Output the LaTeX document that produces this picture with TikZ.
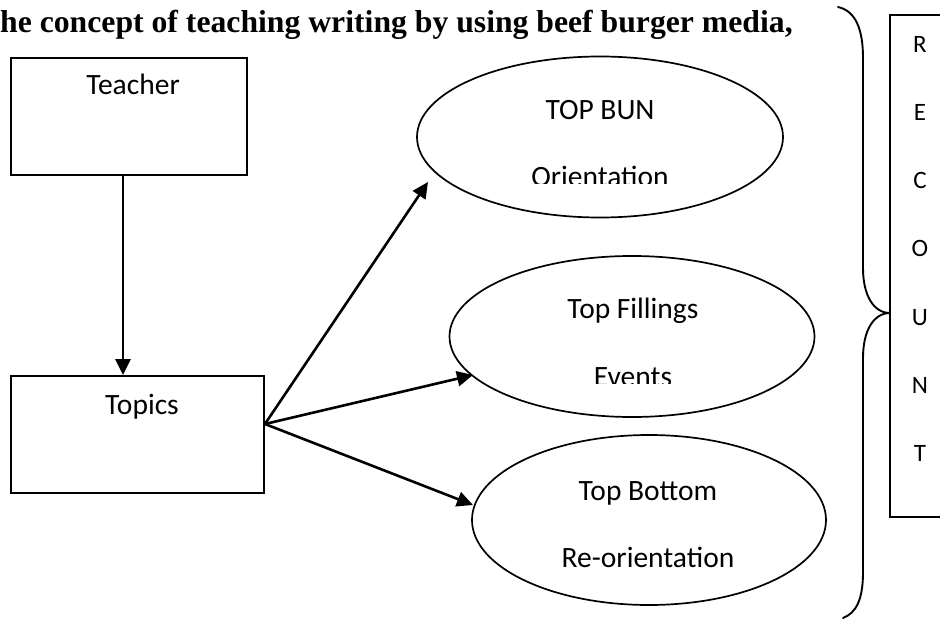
\documentclass[tikz,border=0pt]{standalone}
\usepackage{fontspec}
\setmainfont{Carlito}
\newfontfamily\titlefont{Liberation Serif}
\usetikzlibrary{arrows.meta,shapes.geometric,calc}
\tikzset{
  boxshape/.style={draw, line width=1.9bp, rectangle, inner sep=0pt},
  ellshape/.style={draw, line width=1.7bp, ellipse, inner sep=0pt},
  txt/.style={inner sep=0pt, anchor=base, font=\fontsize{29.5bp}{35bp}\selectfont},
  rtxt/.style={inner sep=0pt, anchor=base, font=\fontsize{25bp}{30bp}\selectfont},
  arr/.style={line width=2.6bp, -{Triangle[length=16bp,width=15bp]}},
  brace/.style={line width=1.9bp, line cap=round},
}
\begin{document}
\begin{tikzpicture}[x=1bp,y=-1bp]
\useasboundingbox (0,0) rectangle (940,619);
% title
\node[inner sep=0pt, anchor=base west, font=\titlefont\bfseries\fontsize{31.7bp}{38bp}\selectfont] (title) at (0,33) {he concept of teaching writing by using beef burger media,};
% boxes
\node[boxshape, minimum width=236bp, minimum height=117bp] (teacher) at (129,116.5) {};
\node[txt] (teacherlbl) at (133,95) {Teacher};
\node[boxshape, minimum width=253bp, minimum height=117bp] (topics) at (137.5,434.5) {};
\node[txt] (topicslbl) at (142,414) {Topics};
% ellipses
\node[ellshape, minimum width=366bp, minimum height=161bp] (bun) at (600,137) {};
\node[ellshape, minimum width=365bp, minimum height=161bp] (fill) at (632,336.5) {};
\node[ellshape, minimum width=354bp, minimum height=170bp] (bottom) at (649,520) {};
\node[txt] (bunlbl) at (600,120) {TOP BUN};
\begin{scope}
  \clip (420,150) rectangle (780,184);
  \node[txt] (orientlbl) at (600,187) {Orientation};
\end{scope}
\node[txt] (filllbl) at (633,318) {Top Fillings};
\begin{scope}
  \clip (460,340) rectangle (810,383);
  \node[txt] (eventslbl) at (633,386) {Events};
\end{scope}
\node[txt] (bottomlbl) at (648,500) {Top Bottom};
\node[txt] (reorientlbl) at (648,567) {Re-orientation};
% connectors
\draw[arr] ([xshift=-6bp]teacher.south) -- ([xshift=-6bp]teacher.south |- topics.north);
\coordinate (src) at ([yshift=10.5bp]topics.east);
\draw[arr] (src) -- ([shift={(-172,45)}]bun.center);
\draw[arr] (src) -- ([shift={(-159,38.5)}]fill.center);
\draw[arr] (src) -- ([shift={(-176,-15)}]bottom.center);
% brace
\draw[brace] (838,7) .. controls (856,11) and (863,30) .. (863,58) -- (863,268)
  .. controls (863,296) and (874,313) .. (890,313)
  .. controls (874,313) and (863,330) .. (863,358) -- (863,572)
  .. controls (863,600) and (856,613) .. (843,618);
% recount box
\draw[line width=1.9bp] (940,15) -- (890,15) -- (890,517) -- (940,517);
\node[rtxt] (r1) at (920,53) {R};
\node[rtxt] (r2) at (920,121) {E};
\node[rtxt] (r3) at (920,189) {C};
\node[rtxt] (r4) at (920,257) {O};
\node[rtxt] (r5) at (920,325) {U};
\node[rtxt] (r6) at (920,393) {N};
\node[rtxt] (r7) at (920,461) {T};
\end{tikzpicture}
\end{document}
